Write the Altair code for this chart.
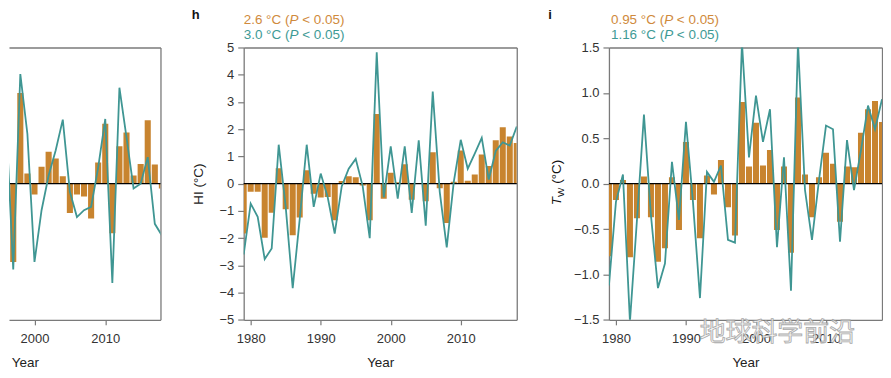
import altair as alt
import pandas as pd
import numpy as np

# ---------------- data ----------------
years = list(range(1979, 2019))

hi_bars = [-1.83, -0.30, -0.30, -1.99, -1.07, 0.57, -0.94, -1.89, -1.24, 0.49,
           -0.37, -0.51, -0.49, -1.34, 0.10, 0.27, 0.24, -0.07, -1.34, 2.56,
           -0.55, 0.40, 0.05, 0.71, -0.59, 0.00, -0.65, 1.15, -0.17, -1.44,
           0.07, 1.22, 0.11, 0.34, 1.07, 0.65, 1.59, 2.07, 1.73, 1.49]
hi_line = [-2.60, -0.73, -1.22, -2.77, -2.38, 1.43, -0.85, -3.84, -1.30, 1.43,
           -0.85, 0.37, -0.50, -1.83, -0.10, 0.55, 0.91, -0.10, -2.00, 4.82,
           -0.50, 1.37, -0.55, 1.37, -1.07, 1.59, -1.54, 3.38, -0.30, -2.34,
           0.06, 1.61, 0.55, 1.10, 1.68, 0.15, 1.20, 1.52, 1.40, 2.10]

tw_bars = [-0.80, -0.18, 0.04, -0.81, -0.38, 0.08, -0.37, -0.86, -0.71, 0.07,
           -0.51, 0.46, -0.18, -0.60, 0.09, -0.12, 0.26, -0.26, -0.57, 0.90,
           0.19, 0.67, 0.20, 0.37, -0.51, 0.19, -0.76, 0.95, 0.10, -0.37,
           0.07, 0.34, 0.22, -0.42, 0.19, 0.18, 0.56, 0.82, 0.91, 0.68]
tw_line = [-1.12, -0.20, 0.10, -1.52, -0.40, 0.76, -0.35, -1.15, -0.88, 0.24,
           -0.40, 0.68, -0.20, -1.26, 0.13, 0.02, 0.20, -0.62, -0.65, 1.55,
           0.29, 0.97, 0.46, 0.82, -0.70, 0.29, -1.18, 1.55, -0.07, -0.62,
           0.04, 0.64, 0.60, -0.64, 0.48, -0.07, 0.37, 0.86, 0.60, 0.93]

g_years = list(range(1995, 2019))
g_bars = [0.77, -0.16, -1.15, 1.33, 0.15, -0.16, 0.25, 0.47, 0.37, 0.11,
          -0.43, -0.16, -0.19, -0.51, 0.31, 0.88, -0.73, 0.55, 0.75, 0.12,
          0.29, 0.93, 0.28, -0.07]
g_line = [2.60, 0.90, -1.26, 1.61, 0.73, -1.15, -0.39, 0.12, 0.49, 0.94,
          -0.12, -0.49, -0.39, -0.34, 0.24, 0.95, -1.46, 1.41, 0.68, -0.07,
          0.00, 0.39, -0.59, -0.76]

year_ticks = [1980, 1990, 2000, 2010]
hi_ticks = [-5, -4, -3, -2, -1, 0, 1, 2, 3, 4, 5]
tw_ticks = [-1.5, -1.0, -0.5, 0.0, 0.5, 1.0, 1.5]

# ---------------- style ----------------
ORANGE = "#C8842F"
TEAL = "#3F9693"
ORANGE_TXT = "#D08A3C"
TEAL_TXT = "#3E9A95"
FRAME = "#7a7a7a"
FONT = "Liberation Sans"
H = 273.3
SP = 3.75  # width of a space at 13.5 px

one = pd.DataFrame({"k": [0]})


def make_df(yrs, bars, line, lo, hi):
    df = pd.DataFrame({"year": yrs, "bar": bars, "line": line})
    df["x0"] = np.clip(df["year"] - 0.43, lo, hi)
    df["x1"] = np.clip(df["year"] + 0.43, lo, hi)
    df["base"] = 0.0
    return df


def txt(s, x, y, color="#111", size=13.5, style="normal", weight="normal",
        angle=0, font=FONT, opacity=1.0, stroke=None):
    kw = dict(text=s, align="left", baseline="alphabetic", fill=color,
              fontSize=size, fontStyle=style, fontWeight=weight, font=font,
              opacity=opacity)
    if angle:
        kw["angle"] = angle
    if stroke:
        kw["stroke"] = stroke
        kw["strokeWidth"] = 0.8
    return alt.Chart(one).mark_text(**kw).encode(x=alt.value(x), y=alt.value(y))


def panel(df, lo, hi, ylo, yhi, width, yvals=None, yfmt="d", ytitle=None,
          xtitle_x=None, extra=()):
    xs = alt.Scale(domain=[lo, hi], nice=False, zero=False)
    ys = alt.Scale(domain=[ylo, yhi], nice=False, zero=False)

    xkw = dict(orient="bottom", values=year_ticks, format="d", title="Year",
               tickSize=5, labelPadding=8, grid=False, titleY=46.7,
               titleBaseline="alphabetic")
    if xtitle_x is not None:
        xkw["titleX"] = xtitle_x
    bottom = alt.Axis(**xkw)

    if yvals is not None:
        ykw = dict(orient="left", values=yvals, format=yfmt, tickSize=6,
                   labelPadding=4, grid=False)
        if ytitle:
            ykw.update(title=ytitle, titleX=-41, titleY=H / 2, titleAngle=270,
                       titleAlign="center", titleBaseline="alphabetic")
        else:
            ykw["title"] = ""
        yaxis = alt.Axis(**ykw)
    else:
        yaxis = None

    bars = alt.Chart(df).mark_bar(color=ORANGE, clip=True).encode(
        x=alt.X("x0:Q", scale=xs, axis=bottom),
        x2="x1:Q",
        y=alt.Y("bar:Q", scale=ys, axis=yaxis),
        y2="base:Q",
    )
    zero = alt.Chart(one).mark_rule(color="black", strokeWidth=1.3).encode(
        y=alt.YDatum(0, axis=None)
    )
    line = alt.Chart(df).mark_line(color=TEAL, strokeWidth=1.8, clip=True).encode(
        x=alt.X("year:Q", scale=xs,
                axis=alt.Axis(orient="top", labels=False, ticks=False, title="",
                              grid=False)),
        y=alt.Y("line:Q", scale=ys,
                axis=alt.Axis(orient="right", labels=False, ticks=False, title="",
                              grid=False)),
    )
    layers = [bars, zero, line] + list(extra)
    return alt.layer(*layers).resolve_axis(x="independent", y="independent").properties(
        width=width, height=H
    )


def annot(x0, y, first, color):
    w1 = {"2.6 °C (": 45.9, "3.0 °C (": 45.9, "0.95 °C (": 53.4, "1.16 °C (": 53.4}[first]
    return [
        txt(first, x0, y, color=color),
        txt("P", x0 + w1, y, color=color, style="italic"),
        txt("< 0.05)", x0 + w1 + 9.0 + SP, y, color=color),
    ]


# ---------------- panel g (cropped on the left) ----------------
G_LO, G_HI = 1996.4, 2017.8
g_df = make_df(g_years, g_bars, g_line, G_LO, G_HI)
g_chart = panel(g_df, G_LO, G_HI, -2, 2, 152, yvals=None, xtitle_x=16,
                extra=[txt("g", 5, -28.7, size=13, weight="bold", opacity=0)])

# ---------------- panel h ----------------
h_df = make_df(years, hi_bars, hi_line, 1979, 2018)
h_extra = [txt("h", -52, -28.7, size=13, weight="bold")]
h_extra += annot(0, -24, "2.6 °C (", ORANGE_TXT)
h_extra += annot(0, -9, "3.0 °C (", TEAL_TXT)
h_chart = panel(h_df, 1979, 2018, -5, 5, 274, yvals=hi_ticks, yfmt="d",
                ytitle="HI (°C)", extra=h_extra)

# ---------------- panel i ----------------
i_df = make_df(years, tw_bars, tw_line, 1979, 2018)
i_extra = [txt("i", -61, -28.7, size=13, weight="bold")]
i_extra += annot(2, -24, "0.95 °C (", ORANGE_TXT)
i_extra += annot(2, -9, "1.16 °C (", TEAL_TXT)
i_extra += [
    txt("T", -48, 158.3, size=13.5, style="italic", angle=270),
    txt("W", -45, 150.0, size=10, angle=270),
    txt("(°C)", -48, 140.5 - SP, size=13.5, angle=270),
    txt("地球科学前沿", 91, 295, color="#f2f2f2", size=26,
        font="Noto Sans CJK SC", opacity=0.85, stroke="#9a9a9a"),
]
i_chart = panel(i_df, 1979, 2018, -1.5, 1.5, 274, yvals=tw_ticks, yfmt=".1f",
                extra=i_extra)

chart = alt.hconcat(g_chart, h_chart, i_chart, spacing=30.5).properties(
    padding={"left": 0, "top": 0, "right": 0, "bottom": 0}
).configure_view(stroke=None).configure_axis(
    labelFont=FONT, titleFont=FONT, labelFontSize=13, titleFontSize=13.5,
    labelColor="#333333", titleColor="#222222", titleFontWeight="normal",
    domainColor=FRAME, tickColor=FRAME, domainWidth=1.3, tickWidth=1.2,
)

chart.save("out.html", embed_options={"renderer": "svg", "actions": False})
